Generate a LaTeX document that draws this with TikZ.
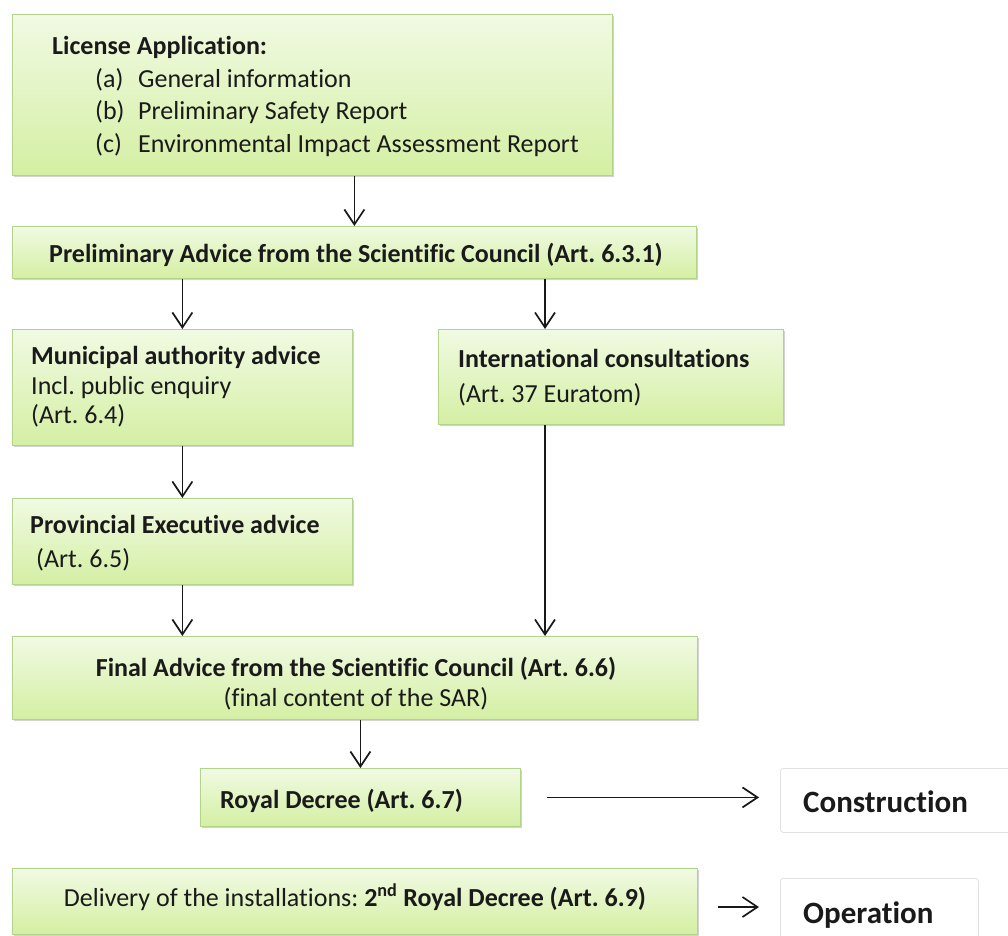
\documentclass[tikz,border=0pt]{standalone}
\usepackage{fontspec}
\setmainfont[Ligatures=NoCommon]{Carlito}
\usetikzlibrary{arrows.meta,shadows}
\definecolor{boxtop}{HTML}{F1FAE3}
\definecolor{boxbot}{HTML}{D4EFA3}
\definecolor{boxline}{HTML}{B2D48A}
\definecolor{txtc}{HTML}{1A1A1A}
\definecolor{wline}{HTML}{E2E2E2}
\frenchspacing
\begin{document}
\begin{tikzpicture}[x=1pt,y=-1pt,
  gbox/.style={draw=boxline, line width=0.8pt, top color=boxtop, bottom color=boxbot,
    rectangle, inner sep=0pt, anchor=north west,
    drop shadow={shadow xshift=1.5pt, shadow yshift=-2pt, opacity=0.35, fill=black!50}},
  wbox/.style={draw=wline, line width=0.8pt, fill=white, rounded corners=3pt,
    rectangle, inner sep=0pt, anchor=north west},
  txt/.style={text=txtc, inner sep=0pt, font=\fontsize{26}{31}\selectfont},
  btxt/.style={text=txtc, inner sep=0pt, font=\fontsize{26}{31}\selectfont\bfseries},
  bigtxt/.style={text=txtc, inner sep=0pt, font=\fontsize{31}{37}\selectfont\bfseries},
  arr/.style={draw=black!90, line width=1.7pt,
    -{Straight Barb[length=15pt,width=20pt,line width=1.7pt]}}]
\useasboundingbox (0,0) rectangle (1008,935);

% boxes
\node[gbox, minimum width=600pt, minimum height=161pt] (lic) at (12,14) {};
\node[gbox, minimum width=684pt, minimum height=52pt] (prelim) at (12,226) {};
\node[gbox, minimum width=340pt, minimum height=116pt] (muni) at (12,329) {};
\node[gbox, minimum width=345pt, minimum height=95pt] (intl) at (438,329) {};
\node[gbox, minimum width=340pt, minimum height=86pt] (prov) at (12,498) {};
\node[gbox, minimum width=685pt, minimum height=83pt] (final) at (12,636) {};
\node[gbox, minimum width=320pt, minimum height=58pt] (royal) at (200,768) {};
\node[wbox, minimum width=236pt, minimum height=64pt] (constr) at (780,768) {};
\node[gbox, minimum width=685pt, minimum height=66pt] (deliv) at (12,868) {};
\node[wbox, minimum width=198pt, minimum height=72pt] (oper) at (780,878) {};

% texts
\node[btxt, anchor=base west] (t1) at (52,54) {License Application:};
\node[txt, anchor=base west] (t2) at (95,87) {\makebox[43pt][l]{(a)}General information};
\node[txt, anchor=base west] (t3) at (95,119) {\makebox[43pt][l]{(b)}Preliminary Safety Report};
\node[txt, anchor=base west] (t4) at (95,152) {\makebox[43pt][l]{(c)}Environmental Impact Assessment Report};
\node[btxt, anchor=base] (t5) at (356,262) {Preliminary Advice from the Scientific Council (Art. 6.3.1)};
\node[btxt, anchor=base west] (t6) at (31,364) {Municipal authority advice};
\node[txt, anchor=base west] (t7) at (31,394) {Incl. public enquiry};
\node[txt, anchor=base west] (t8) at (31,423) {(Art. 6.4)};
\node[btxt, anchor=base west] (t9) at (458,367) {International consultations};
\node[txt, anchor=base west] (t10) at (458,402) {(Art. 37 Euratom)};
\node[btxt, anchor=base west] (t11) at (30,533) {Provincial Executive advice};
\node[txt, anchor=base west] (t12) at (36,567) {(Art. 6.5)};
\node[btxt, anchor=base] (t13) at (356,676) {Final Advice from the Scientific Council (Art. 6.6)};
\node[txt, anchor=base] (t14) at (356,706) {(final content of the SAR)};
\node[btxt, anchor=base west] (t15) at (220,808) {Royal Decree (Art. 6.7)};
\node[bigtxt, anchor=base west] (t16) at (803,812) {Construction};
\node[txt, anchor=base] (t17) at (355,906) {Delivery of the installations: \textbf{2\textsuperscript{nd} Royal Decree (Art. 6.9)}};
\node[bigtxt, anchor=base west] (t18) at (803,923) {Operation};

% connectors
\coordinate (cx) at (545,0);
\coordinate (oy) at (0,907);
\draw[arr] (lic.south -| prelim.north) -- (prelim.north);
\draw[arr] (prelim.south -| muni.north) -- (muni.north);
\draw[arr] (prelim.south -| cx) -- (intl.north -| cx);
\draw[arr] (intl.south -| cx) -- (final.north -| cx);
\draw[arr] (muni.south) -- (prov.north);
\draw[arr] (prov.south) -- (final.north -| prov.south);
\draw[arr] (final.south -| royal.north) -- (royal.north);
\draw[arr] ([xshift=26pt]royal.east) -- ([xshift=-21pt]constr.west |- royal.east);
\draw[arr] ([xshift=20pt]deliv.east |- oy) -- ([xshift=-21pt]oper.west |- oy);
\end{tikzpicture}
\end{document}
